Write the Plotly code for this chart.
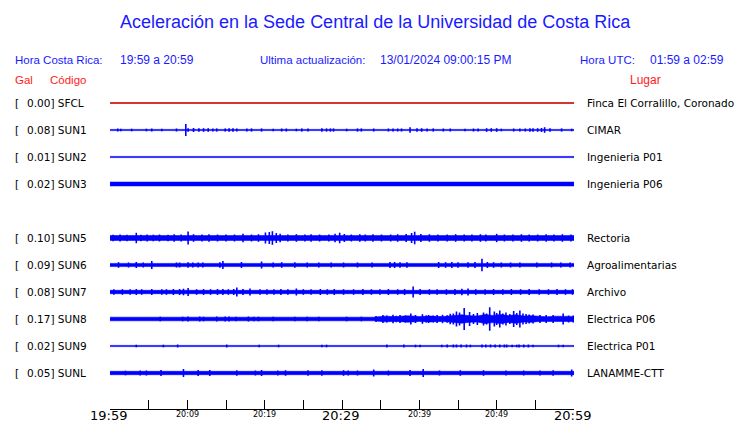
import plotly.graph_objects as go

# ---------------- data ----------------
TITLE = "Aceleración en la Sede Central de la Universidad de Costa Rica"
HORA_CR = "19:59 a 20:59"
HORA_UTC = "01:59 a 02:59"
ULTIMA = "13/01/2024 09:00:15 PM"

codes = ["SFCL", "SUN1", "SUN2", "SUN3", "SUN5", "SUN6", "SUN7", "SUN8", "SUN9", "SUNL"]
gal = [0.00, 0.08, 0.01, 0.02, 0.10, 0.09, 0.08, 0.17, 0.02, 0.05]
lugar = ["Finca El Corralillo, Coronado", "CIMAR", "Ingenieria P01", "Ingenieria P06",
         "Rectoria", "Agroalimentarias", "Archivo", "Electrica P06", "Electrica P01", "LANAMME-CTT"]
rows = [0, 1, 2, 3, 5, 6, 7, 8, 9, 10]   # slot 4 is empty in the display

# time ticks (minutes after 19:59)
tick_minutes = list(range(0, 61, 5))
big_labels = {0: "19:59", 30: "20:29", 60: "20:59"}
small_labels = {10: "20:09", 20: "20:19", 40: "20:39", 50: "20:49"}

# envelope breakpoints (minute, half amplitude in relative units)
env_t = {
    "SFCL": [0, 60], "SUN1": [0, 60], "SUN2": [0, 60], "SUN3": [0, 60],
    "SUN5": [0, 60], "SUN6": [0, 60], "SUN7": [0, 60],
    "SUN8": [0, 34, 35.5, 37, 38.5, 40, 41.5, 43, 44.5, 45.5, 46.5, 47.5, 48.5, 49.5, 50.5,
             51.5, 52.5, 53.5, 54.5, 55.5, 56.5, 57.5, 58.5, 60],
    "SUN9": [0, 60], "SUNL": [0, 60],
}
env_a = {
    "SFCL": [0.5, 0.5], "SUN1": [0.6, 0.6], "SUN2": [0.6, 0.6], "SUN3": [1.9, 1.9],
    "SUN5": [2.4, 2.4], "SUN6": [1.6, 1.6], "SUN7": [1.7, 1.7],
    "SUN8": [1.8, 1.8, 2.8, 2.4, 3.2, 2.5, 2.9, 2.4, 3.4, 4.2, 3.3, 3.0, 4.5, 3.6, 4.6,
             3.4, 4.2, 3.0, 3.3, 2.4, 2.2, 2.8, 2.5, 2.6],
    "SUN9": [0.6, 0.6], "SUNL": [1.7, 1.7],
}
# transient peaks (minute, half amplitude in relative units)
spike_t = {
    "SFCL": [],
    "SUN1": [1.0, 1.4, 2.8, 4.7, 5.4, 6.7, 8.6, 9.8, 10.1, 10.8, 11.5, 12.1, 12.7, 13.3, 13.8, 14.9, 15.4,
             15.9, 16.4, 17.7, 18.3, 19.6, 21.1, 22.2, 22.8, 24.1, 24.8, 25.6, 27.4, 28.0, 28.5, 28.9,
             30.6, 32.0, 32.5, 34.1, 36.0, 36.6, 37.2, 37.7, 38.8, 39.7, 40.3, 41.0, 41.8, 43.1, 44.0,
             45.9, 47.0, 47.6, 48.7, 49.3, 50.0, 50.6, 52.2, 53.0, 53.7, 54.3, 54.7, 55.3, 55.8, 56.2,
             56.9, 58.4, 59.7],
    "SUN2": [],
    "SUN3": [],
    "SUN5": [0.4, 1.3, 2.2, 3.4, 4.0, 4.8, 5.6, 6.4, 7.5, 8.3, 9.2, 10.1, 10.8, 11.9, 12.8, 13.9, 15.0,
             16.1, 17.2, 18.3, 19.2, 20.1, 20.6, 21.0, 21.5, 22.0, 23.0, 24.1, 25.2, 26.0, 27.1, 28.3,
             29.1, 29.7, 30.3, 31.2, 32.3, 33.0, 34.0, 35.1, 36.3, 37.2, 38.3, 39.0, 39.4, 40.2, 41.3,
             42.4, 43.6, 44.7, 45.8, 46.8, 47.9, 48.6, 50.0, 51.0, 52.1, 53.2, 54.2, 55.3, 56.4, 57.4,
             58.5, 59.6],
    "SUN6": [1.1, 2.4, 3.4, 4.3, 5.4, 8.6, 9.0, 10.1, 10.7, 11.4, 12.0, 14.2, 14.6, 17.0, 19.6, 21.1,
             22.2, 23.9, 25.5, 27.0, 28.6, 30.2, 32.0, 33.9, 36.2, 36.8, 37.5, 38.4, 42.5, 43.4, 44.2,
             45.0, 46.3, 47.2, 48.1, 48.8, 49.6, 50.6, 51.8, 53.0, 55.2, 57.1, 58.3, 59.5],
    "SUN7": [0.5, 1.6, 2.6, 3.4, 4.1, 5.4, 6.7, 7.3, 8.2, 9.0, 9.5, 10.1, 11.2, 12.1, 13.0, 13.9, 14.6,
             15.3, 16.0, 16.4, 17.2, 18.1, 19.4, 20.3, 21.2, 22.1, 23.0, 24.1, 25.0, 26.0, 27.2, 28.1,
             29.0, 30.2, 31.5, 32.7, 33.8, 34.9, 36.0, 37.2, 38.1, 39.2, 40.1, 41.3, 42.3, 43.5, 44.6,
             45.5, 46.3, 47.3, 48.5, 49.6, 50.8, 51.9, 53.1, 54.2, 55.5, 56.7, 57.8, 58.9, 59.8],
    "SUN8": [6.5, 9.4, 10.1, 11.6, 12.1, 13.8, 14.9, 15.4, 16.3, 17.9, 18.6, 19.2, 21.1, 23.9, 25.5,
             27.0, 30.6, 32.5, 34.4, 35.3, 35.8, 36.6, 37.0, 37.5, 38.2, 38.9, 39.5, 40.4, 40.9, 41.2,
             41.8, 42.3, 43.0, 43.6, 44.0, 44.4, 44.8, 45.2, 45.8, 46.5, 47.0, 47.5, 48.3, 48.7, 49.1,
             49.7, 50.0, 50.4, 50.8, 51.2, 51.7, 52.2, 52.6, 53.0, 53.4, 53.8, 54.2, 54.7, 55.6, 56.4,
             57.3, 58.6, 59.3, 59.9],
    "SUN9": [3.4, 6.9, 8.75, 15.1, 19.3, 21.8, 27.4, 28.0, 35.8, 38.0, 39.5, 40.1, 42.9, 43.6, 44.4,
             44.8, 45.4, 46.1, 46.6, 48.1, 48.6, 49.2, 49.8, 50.4, 51.0, 51.3, 52.0, 52.6, 52.9, 53.5,
             54.1, 54.7, 58.0, 58.6],
    "SUNL": [2.0, 3.9, 4.7, 6.6, 9.5, 11.4, 12.9, 16.4, 18.8, 19.6, 21.7, 22.7, 25.6, 27.4, 30.2, 30.8,
             32.0, 34.1, 36.0, 38.8, 40.5, 42.6, 45.3, 48.3, 51.2, 53.5, 55.6, 57.3, 59.7],
}
spike_a = {
    "SFCL": [],
    "SUN1": [1.5, 1.3, 1.3, 1.3, 1.5, 1.3, 1.5, 6.0, 1.8, 2.0, 1.8, 1.8, 1.8, 1.6, 1.6, 1.6, 1.8,
             1.8, 1.6, 1.6, 1.6, 1.6, 1.3, 1.5, 1.5, 1.3, 1.6, 1.6, 1.8, 1.6, 1.6, 1.6,
             1.3, 1.6, 1.6, 1.5, 1.5, 1.5, 1.5, 1.5, 2.8, 1.8, 1.8, 1.6, 1.6, 1.5, 1.5,
             1.3, 1.5, 1.5, 1.8, 1.8, 1.8, 1.3, 1.5, 1.5, 1.5, 1.8, 1.8, 1.8, 2.0, 2.8,
             1.8, 1.6, 1.3],
    "SUN2": [],
    "SUN3": [],
    "SUN5": [3.3, 3.5, 3.3, 5.2, 3.3, 3.5, 3.3, 3.5, 3.3, 3.8, 3.5, 6.5, 3.8, 3.5, 3.8, 3.5, 3.5,
             3.5, 4.2, 3.5, 3.8, 5.5, 6.0, 6.8, 5.0, 4.2, 3.5, 3.8, 3.5, 3.8, 3.5, 3.5,
             4.2, 5.3, 4.0, 3.5, 3.8, 3.5, 3.8, 3.5, 3.5, 3.8, 4.0, 5.0, 6.3, 4.0, 3.8,
             3.5, 3.5, 3.8, 3.5, 3.5, 3.8, 3.5, 4.2, 3.5, 3.5, 3.8, 3.5, 3.5, 3.8, 3.5,
             3.8, 3.5],
    "SUN6": [2.8, 2.5, 3.0, 2.5, 4.0, 2.5, 2.5, 2.8, 2.5, 2.5, 2.5, 2.8, 4.0, 3.0, 3.5, 2.5,
             2.8, 2.8, 2.5, 2.5, 2.5, 2.5, 2.5, 2.5, 3.0, 3.0, 2.8, 2.8, 3.0, 2.8, 3.0,
             2.8, 2.8, 3.0, 6.3, 3.0, 2.8, 2.5, 2.5, 2.5, 2.5, 2.5, 2.5, 2.5],
    "SUN7": [2.8, 2.8, 2.8, 3.0, 2.8, 3.0, 2.8, 2.8, 3.0, 3.0, 3.3, 4.0, 2.8, 3.0, 2.8, 3.0, 3.0,
             2.8, 3.0, 4.5, 3.0, 3.5, 2.8, 2.8, 2.8, 3.0, 2.8, 3.5, 2.8, 2.8, 3.0, 2.8,
             3.0, 2.8, 2.8, 3.0, 2.8, 2.8, 3.0, 2.8, 3.0, 5.5, 3.0, 2.8, 2.8, 2.8, 3.0,
             3.3, 3.5, 2.8, 2.8, 3.0, 2.8, 3.0, 2.8, 3.0, 2.8, 2.8, 3.0, 2.8, 2.8],
    "SUN8": [2.3, 2.3, 2.5, 2.5, 2.3, 2.5, 2.5, 2.5, 2.3, 2.5, 2.3, 2.3, 2.3, 2.3, 2.3,
             2.3, 2.3, 2.3, 3.0, 4.0, 3.5, 4.2, 3.2, 4.0, 3.6, 5.5, 4.0, 4.8, 3.6, 4.0,
             3.5, 4.0, 4.2, 3.8, 5.2, 5.5, 7.5, 6.5, 11.0, 7.0, 5.0, 6.0, 6.5, 5.5, 11.7,
             7.5, 6.0, 8.5, 5.5, 6.5, 5.0, 8.0, 6.0, 8.5, 5.5, 5.0, 4.5, 4.5, 4.0, 4.0,
             4.0, 5.5, 3.5, 3.5],
    "SUN9": [1.3, 1.3, 1.5, 1.5, 1.3, 1.3, 1.3, 1.3, 1.5, 1.5, 1.3, 1.3, 1.3, 1.5, 1.5,
             1.5, 1.5, 1.5, 1.3, 1.5, 1.5, 1.5, 1.5, 1.5, 1.5, 1.5, 1.3, 1.3, 1.5, 1.5,
             1.5, 1.3, 1.3, 1.3],
    "SUNL": [2.3, 2.5, 2.5, 3.0, 4.0, 3.0, 3.0, 2.8, 2.5, 3.0, 2.5, 2.8, 2.8, 2.8, 2.8, 2.5,
             2.5, 3.5, 2.5, 3.0, 4.0, 2.5, 2.8, 2.8, 2.5, 2.5, 2.5, 2.8, 3.5],
}
trace_colors = {"SFCL": "#cc0000"}

# ---------------- drawing ----------------
BLUE = "#0000ff"
TXT_BLUE = "#1a1aff"
RED = "#ff1a1a"
ROW_PX = 27.0            # vertical spacing between rows in pixels
AMP = 1.0 / ROW_PX       # relative units -> row units

fig = go.Figure()
for code, r in zip(codes, rows):
    col = trace_colors.get(code, BLUE)
    ts, amps = env_t[code], env_a[code]
    xs = ts + ts[::-1]
    ys = [r - a * AMP for a in amps] + [r + a * AMP for a in amps[::-1]]
    fig.add_trace(go.Scatter(x=xs, y=ys, fill="toself", fillcolor=col, mode="lines",
                             line=dict(color=col, width=0.6), hoverinfo="skip", showlegend=False))
    sx, sy = [], []
    for t, a in zip(spike_t[code], spike_a[code]):
        sx += [t, t, None]
        sy += [r - a * AMP, r + a * AMP, None]
    if sx:
        fig.add_trace(go.Scatter(x=sx, y=sy, mode="lines", line=dict(color=col, width=1.6),
                                 hoverinfo="skip", showlegend=False))

W, H = 740, 423
L, R, T, B = 110, 166, 90, 14
PW, PH = W - L - R, H - T - B
top_row = -(103 - T) / ROW_PX
bot_row = 10 + (H - B - 373) / ROW_PX

fig.update_layout(
    width=W, height=H, margin=dict(l=L, r=R, t=T, b=B, autoexpand=False),
    paper_bgcolor="white", plot_bgcolor="white", showlegend=False,
    xaxis=dict(range=[0, 60], tickvals=tick_minutes, ticktext=[""] * len(tick_minutes),
               ticks="inside", ticklen=9, tickcolor="black", tickwidth=1,
               showline=True, linecolor="black", linewidth=1, showgrid=False, zeroline=False,
               fixedrange=True),
    yaxis=dict(range=[bot_row, top_row], visible=False, showgrid=False, zeroline=False, fixedrange=True),
)

ann = []
def paper_text(x, y, text, size, color, anchor="left", family="Liberation Sans, Arial, sans-serif"):
    shift = -2 if anchor == "left" else 0
    ann.append(dict(x=(x - L) / PW, y=(H - B - y) / PH, xref="paper", yref="paper", text=text,
                    showarrow=False, xanchor=anchor, yanchor="middle", xshift=shift,
                    font=dict(size=size, color=color, family=family)))

paper_text(375, 22, TITLE, 18, TXT_BLUE, "center")
paper_text(15, 60, "Hora Costa Rica:", 11.5, TXT_BLUE)
paper_text(120, 60, HORA_CR, 12, TXT_BLUE)
paper_text(260, 60, "Ultima actualización:", 11.5, TXT_BLUE)
paper_text(380, 60, ULTIMA, 12, TXT_BLUE)
paper_text(580, 60, "Hora UTC:", 11.5, TXT_BLUE)
paper_text(650, 60, HORA_UTC, 12, TXT_BLUE)
paper_text(15, 80, "Gal", 11.5, RED)
paper_text(50, 80, "Código", 11.5, RED)
paper_text(630, 80, "Lugar", 12, RED)

DV = "DejaVu Sans, sans-serif"
for code, g, lg, r in zip(codes, gal, lugar, rows):
    yy = 103 + r * ROW_PX
    paper_text(15, yy, "[", 10.5, "black", family=DV)
    paper_text(27, yy, f"{g:.2f}] {code}", 10.5, "black", family=DV)
    paper_text(587, yy, lg, 10.5, "black", family=DV)

for m, lab in big_labels.items():
    ann.append(dict(x=m, y=(H - B - 415) / PH, xref="x", yref="paper", text=lab, showarrow=False,
                    xanchor="center", yanchor="middle", xshift=-2,
                    font=dict(size=13, color="black", family=DV)))
for m, lab in small_labels.items():
    ann.append(dict(x=m, y=(H - B - 414) / PH, xref="x", yref="paper", text=lab, showarrow=False,
                    xanchor="center", yanchor="middle", font=dict(size=8, color="black", family=DV)))

fig.update_layout(annotations=ann)
fig.write_html("out.html", config={"displayModeBar": False},
               post_script="document.body.style.margin='0';document.body.style.padding='0';")
